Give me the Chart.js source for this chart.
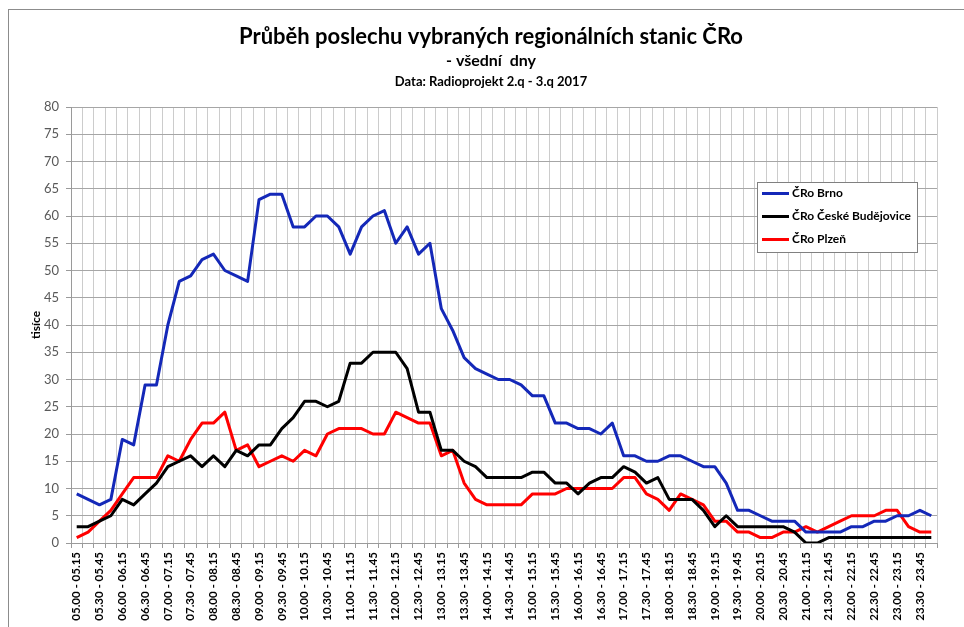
<!DOCTYPE html>
<html><head><meta charset="utf-8">
<script src="https://cdn.jsdelivr.net/npm/chart.js@4"></script>
<style>html,body{margin:0;padding:0;background:#fff}</style>
</head><body>
<canvas id="c" width="964" height="627"></canvas>
<script>
const titleMain = "Průběh poslechu vybraných regionálních stanic ČRo";
const titleSub = "- všední  dny";
const titleData = "Data: Radioprojekt 2.q - 3.q 2017";
const yAxisTitle = "tisíce";
const seriesNames = ["ČRo Brno", "ČRo České Budějovice", "ČRo Plzeň"];

const categories = [
"05.00 - 05.15","05.15 - 05.30","05.30 - 05.45","05.45 - 06.00",
"06.00 - 06.15","06.15 - 06.30","06.30 - 06.45","06.45 - 07.00",
"07.00 - 07.15","07.15 - 07.30","07.30 - 07.45","07.45 - 08.00",
"08.00 - 08.15","08.15 - 08.30","08.30 - 08.45","08.45 - 09.00",
"09.00 - 09.15","09.15 - 09.30","09.30 - 09.45","09.45 - 10.00",
"10.00 - 10.15","10.15 - 10.30","10.30 - 10.45","10.45 - 11.00",
"11.00 - 11.15","11.15 - 11.30","11.30 - 11.45","11.45 - 12.00",
"12.00 - 12.15","12.15 - 12.30","12.30 - 12.45","12.45 - 13.00",
"13.00 - 13.15","13.15 - 13.30","13.30 - 13.45","13.45 - 14.00",
"14.00 - 14.15","14.15 - 14.30","14.30 - 14.45","14.45 - 15.00",
"15.00 - 15.15","15.15 - 15.30","15.30 - 15.45","15.45 - 16.00",
"16.00 - 16.15","16.15 - 16.30","16.30 - 16.45","16.45 - 17.00",
"17.00 - 17.15","17.15 - 17.30","17.30 - 17.45","17.45 - 18.00",
"18.00 - 18.15","18.15 - 18.30","18.30 - 18.45","18.45 - 19.00",
"19.00 - 19.15","19.15 - 19.30","19.30 - 19.45","19.45 - 20.00",
"20.00 - 20.15","20.15 - 20.30","20.30 - 20.45","20.45 - 21.00",
"21.00 - 21.15","21.15 - 21.30","21.30 - 21.45","21.45 - 22.00",
"22.00 - 22.15","22.15 - 22.30","22.30 - 22.45","22.45 - 23.00",
"23.00 - 23.15","23.15 - 23.30","23.30 - 23.45","23.45 - 24.00"
];

const brno = [
9,8,7,8, 19,18,29,29, 40,48,49,52, 53,50,49,48,
63,64,64,58, 58,60,60,58, 53,58,60,61, 55,58,53,55,
43,39,34,32, 31,30,30,29, 27,27,22,22, 21,21,20,22,
16,16,15,15, 16,16,15,14, 14,11,6,6, 5,4,4,4,
2,2,2,2, 3,3,4,4, 5,5,6,5
];
const budejovice = [
3,3,4,5, 8,7,9,11, 14,15,16,14, 16,14,17,16,
18,18,21,23, 26,26,25,26, 33,33,35,35, 35,32,24,24,
17,17,15,14, 12,12,12,12, 13,13,11,11, 9,11,12,12,
14,13,11,12, 8,8,8,6, 3,5,3,3, 3,3,3,2,
0,0,1,1, 1,1,1,1, 1,1,1,1
];
const plzen = [
1,2,4,6, 9,12,12,12, 16,15,19,22, 22,24,17,18,
14,15,16,15, 17,16,20,21, 21,21,20,20, 24,23,22,22,
16,17,11,8, 7,7,7,7, 9,9,9,10, 10,10,10,10,
12,12,9,8, 6,9,8,7, 4,4,2,2, 1,1,2,2,
3,2,3,4, 5,5,5,6, 6,3,2,2
];
const seriesColors = ["#1428b8", "#000000", "#ff0000"];
const yMin = 0, yMax = 80, yStep = 5;

const FONT = "Lato";

const decor = {
  id: 'decor',
  beforeDraw(chart) {
    const ctx = chart.ctx;
    ctx.save();
    ctx.fillStyle = '#fff';
    ctx.fillRect(0, 0, chart.width, chart.height);
    ctx.strokeStyle = '#8c8c8c';
    ctx.lineWidth = 1;
    ctx.strokeRect(8.5, 9.5, chart.width + 20, chart.height + 20);
    ctx.restore();
  },
  afterDraw(chart) {
    const ctx = chart.ctx;
    ctx.save();
    ctx.fillStyle = '#000';
    ctx.textAlign = 'center';
    ctx.textBaseline = 'alphabetic';
    const cx = 491;
    ctx.font = "bold 22px " + FONT;
    ctx.fillText(titleMain, cx, 44);
    ctx.font = "bold 16px " + FONT;
    ctx.fillText(titleSub, cx, 66);
    ctx.font = "bold 13px " + FONT;
    ctx.fillText(titleData, cx, 86);
    // y axis title
    ctx.save();
    ctx.translate(36, 325);
    ctx.rotate(-Math.PI / 2);
    ctx.font = "bold 12px " + FONT;
    ctx.textBaseline = 'middle';
    ctx.fillText(yAxisTitle, 0, 0);
    ctx.restore();
    // legend
    const lx = 757, ly = 182, lw = 160, lh = 70;
    ctx.fillStyle = '#fff';
    ctx.fillRect(lx, ly, lw, lh);
    ctx.strokeStyle = '#808080';
    ctx.lineWidth = 1;
    ctx.strokeRect(lx + 0.5, ly + 0.5, lw, lh);
    ctx.textAlign = 'left';
    ctx.textBaseline = 'middle';
    ctx.font = "bold 12px " + FONT;
    chart.data.datasets.forEach((ds, i) => {
      const y = ly + 11.5 + i * 23;
      ctx.strokeStyle = ds.borderColor;
      ctx.lineWidth = 3;
      ctx.beginPath();
      ctx.moveTo(lx + 5, y);
      ctx.lineTo(lx + 32, y);
      ctx.stroke();
      ctx.fillStyle = '#000';
      ctx.fillText(ds.label, lx + 35, y);
    });
    ctx.restore();
  }
};

new Chart(document.getElementById('c'), {
  type: 'line',
  data: {
    labels: categories,
    datasets: [
      { label: seriesNames[0], data: brno, borderColor: seriesColors[0] },
      { label: seriesNames[1], data: budejovice, borderColor: seriesColors[1] },
      { label: seriesNames[2], data: plzen, borderColor: seriesColors[2] }
    ].map(d => Object.assign(d, { borderWidth: 3, pointRadius: 0, tension: 0, fill: false, borderJoinStyle: 'round' }))
  },
  options: {
    responsive: false,
    devicePixelRatio: 1,
    animation: false,
    layout: { padding: { left: 8, right: 27, top: 107, bottom: 0 } },
    plugins: { legend: { display: false }, title: { display: false }, tooltip: { enabled: false } },
    scales: {
      x: {
        type: 'category',
        offset: true,
        grid: { offset: true, color: '#cccccc', lineWidth: 1, drawTicks: true, tickLength: 5, tickColor: '#9a9a9a' },
        border: { color: '#9a9a9a' },
        ticks: {
          autoSkip: false, maxRotation: 90, minRotation: 90, padding: 4,
          color: '#000', font: { family: FONT, weight: 'bold', size: 11.5 },
          callback: (v, i) => (i % 2 === 0 ? categories[i] : '')
        },
        afterFit: s => { s.height = 84; }
      },
      y: {
        min: yMin, max: yMax,
        grid: { color: '#a6a6a6', lineWidth: 1, tickLength: 5, tickColor: '#9a9a9a' },
        border: { color: '#9a9a9a' },
        ticks: { stepSize: yStep, padding: 7, color: '#595959', font: { family: FONT, size: 13 } },
        afterFit: s => { s.width = 63; }
      }
    }
  },
  plugins: [decor]
});
</script>
</body></html>
